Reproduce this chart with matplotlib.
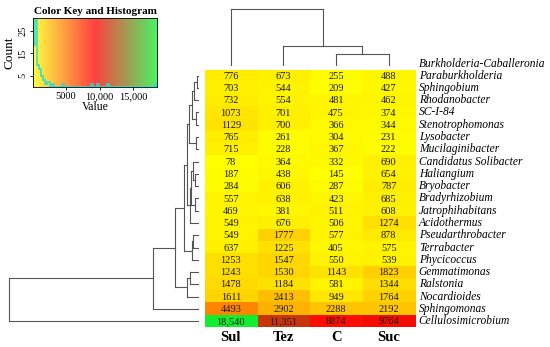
import matplotlib; matplotlib.use('Agg')
import matplotlib.pyplot as plt
import numpy as np
from matplotlib.colors import LinearSegmentedColormap

# abundance table (rows = genera, cols = treatments)
treatments = ['Sul', 'Tez', 'C', 'Suc']
genera = ['Paraburkholderia', 'Sphingobium', 'Rhodanobacter', 'SC-I-84', 'Stenotrophomonas',
          'Lysobacter', 'Mucilaginibacter', 'Candidatus Solibacter', 'Haliangium', 'Bryobacter',
          'Bradyrhizobium', 'Jatrophihabitans', 'Acidothermus', 'Pseudarthrobacter', 'Terrabacter',
          'Phycicoccus', 'Gemmatimonas', 'Ralstonia', 'Nocardioides', 'Sphingomonas',
          'Cellulosimicrobium']
extra_label = 'Burkholderia-Caballeronia'
sul = [776, 703, 732, 1073, 1129, 765, 715, 78, 187, 284, 557, 469, 549, 549, 637, 1253, 1243, 1478, 1611, 4493, 18540]
tez = [673, 544, 554, 701, 700, 261, 228, 364, 438, 606, 638, 381, 676, 1777, 1225, 1547, 1530, 1184, 2413, 2902, 11351]
ctl = [255, 209, 481, 475, 366, 304, 367, 332, 145, 287, 423, 511, 506, 577, 405, 550, 1143, 581, 949, 2288, 8874]
suc = [488, 427, 462, 374, 344, 231, 222, 690, 654, 787, 685, 608, 1274, 878, 575, 539, 1823, 1344, 1764, 2192, 9764]

# dendrogram merges (child a, child b, height); ids >= n are earlier merges
row_merges = [(0, 1, 1.3), (21, 2, 3.7), (3, 4, 2.0), (22, 23, 6.3), (5, 6, 2.3), (24, 25, 9.0),
              (8, 9, 3.0), (7, 27, 5.0), (10, 11, 3.0), (28, 29, 7.0), (30, 12, 8.5), (26, 31, 11.0),
              (13, 14, 5.0), (33, 15, 6.5), (32, 34, 14.0), (16, 17, 8.0), (36, 18, 11.0),
              (35, 37, 23.0), (38, 19, 45.0), (39, 20, 189.0)]
col_merges = [(2, 3, 10.7), (1, 4, 19.3), (0, 5, 55.7)]

data = np.array([sul, tez, ctl, suc]).T
vmin, vmax = data.min(), data.max()
cmap = LinearSegmentedColormap.from_list('yrg', ['#ffff00', '#ff0000', '#10ee30'])
serif = ['Liberation Serif', 'DejaVu Serif']
plt.rcParams['font.family'] = serif
W, H = 550, 347

def rect(l, t, r, b):
    return [l / W, (H - b) / H, (r - l) / W, (b - t) / H]

def draw_dendro(ax, merges, n, orient):
    pos = {i: float(i) for i in range(n)}
    hgt = {i: 0.0 for i in range(n)}
    for k, (a, b, h) in enumerate(merges):
        for c in (a, b):
            if orient == 'left':
                ax.plot([hgt[c], h], [pos[c], pos[c]], color='#555', lw=0.8, clip_on=False)
            else:
                ax.plot([pos[c], pos[c]], [hgt[c], h], color='#555', lw=0.8, clip_on=False)
        if orient == 'left':
            ax.plot([h, h], [pos[a], pos[b]], color='#555', lw=0.8, clip_on=False)
        else:
            ax.plot([pos[a], pos[b]], [h, h], color='#555', lw=0.8, clip_on=False)
        pos[n + k] = (pos[a] + pos[b]) / 2
        hgt[n + k] = h
    ax.axis('off')

fig = plt.figure(figsize=(5.5, 3.47), dpi=100)

# heatmap
ax = fig.add_axes(rect(204.5, 69.5, 415, 327.3))
ax.imshow(data, cmap=cmap, vmin=vmin, vmax=vmax, aspect='auto', interpolation='nearest')
for i in range(data.shape[0]):
    for j in range(data.shape[1]):
        v = data[i, j]
        ax.text(j, i + 0.05, f'{v:,}' if v >= 10000 else str(v), ha='center', va='center',
                fontsize=7.5, color='#1a1a1a')
ax.set_xticks(range(4)); ax.set_xticklabels(treatments, fontsize=10.5, fontweight='bold')
ax.tick_params(axis='x', length=0, pad=3)
ax.set_yticks([])
for s in ax.spines.values(): s.set_visible(False)
tr = ax.get_yaxis_transform()
for i, g in enumerate(genera):
    ax.text(1.018, i, g, transform=tr, ha='left', va='center', fontsize=8.3, style='italic')
ax.text(1.018, -0.98, extra_label, transform=tr, ha='left', va='center', fontsize=8.3, style='italic')

# row dendrogram
axr = fig.add_axes(rect(0, 69.5, 198, 327.3))
draw_dendro(axr, row_merges, len(genera), 'left')
axr.set_xlim(198, 0); axr.set_ylim(20.5, -0.5)

# column dendrogram
axc = fig.add_axes(rect(204.5, 9.3, 415, 65))
draw_dendro(axc, col_merges, len(treatments), 'top')
axc.set_xlim(-0.5, 3.5); axc.set_ylim(0, 55.7)

# color key with histogram
axk = fig.add_axes(rect(33, 18, 157, 86.7))
axk.imshow(np.linspace(vmin, vmax, 256)[None, :], extent=(vmin, vmax, 0, 31), aspect='auto',
           cmap=cmap, vmin=vmin, vmax=vmax, alpha=0.75)
counts, edges = np.histogram(data.ravel(), bins=60, range=(vmin, vmax))
axk.stairs(counts, edges, color='#22e0d0', lw=1.1)
axk.set_xlim(vmin, vmax); axk.set_ylim(0, 31)
axk.set_xticks([5000, 10000, 15000]); axk.set_xticklabels(['5000', '10,000', '15,000'], fontsize=7.5)
axk.set_yticks([5, 15, 25]); axk.set_yticklabels(['5', '15', '25'], fontsize=7.5, rotation=90, va='center')
axk.tick_params(length=2.5, pad=1.5, width=0.6)
for s in axk.spines.values(): s.set_linewidth(0.6)
axk.set_xlabel('Value', fontsize=8.5, labelpad=0)
axk.set_ylabel('Count', fontsize=9.5, labelpad=2)
axk.set_title('Color Key and Histogram', fontsize=8, fontweight='bold', pad=3)

plt.savefig('out.png', dpi=100)
